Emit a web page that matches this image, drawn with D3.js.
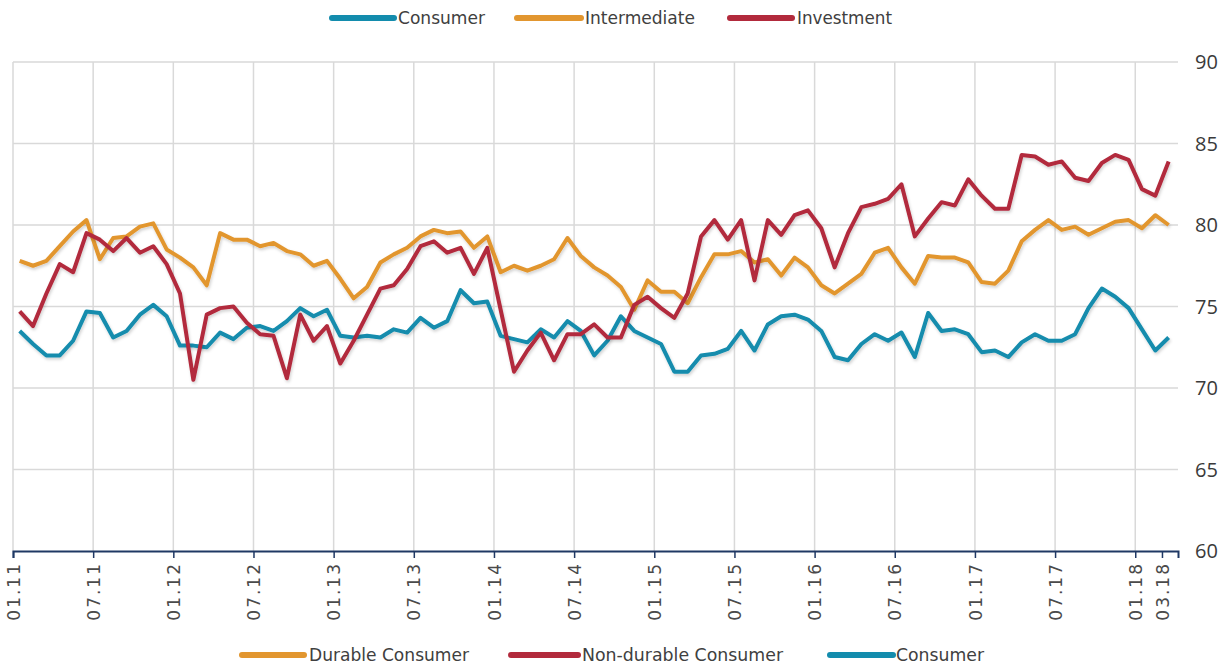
<!DOCTYPE html>
<html><head><meta charset="utf-8">
<script src="https://cdn.jsdelivr.net/npm/d3@7/dist/d3.min.js"></script>
<style>body{margin:0;background:#fff}svg{display:block}</style>
</head><body>
<svg id="c" width="1227" height="669"></svg>
<script>
// ---- data ----
const tickLabels = ["01.11","07.11","01.12","07.12","01.13","07.13","01.14","07.14","01.15","07.15","01.16","07.16","01.17","07.17","01.18","03.18"];
const tickIndex  = [0,6,12,18,24,30,36,42,48,54,60,66,72,78,84,86];
const yTicks = [60,65,70,75,80,85,90];

const consumer = [73.5,72.7,72.0,72.0,72.9,74.7,74.6,73.1,73.5,74.5,75.1,74.4,72.6,72.6,72.5,
  73.4,73.0,73.7,73.8,73.5,74.1,74.9,74.4,74.8,73.2,73.1,73.2,73.1,73.6,73.4,
  74.3,73.7,74.1,76.0,75.2,75.3,73.2,73.0,72.8,73.6,73.1,74.1,73.5,72.0,
  72.9,74.4,73.5,73.1,72.7,71.0,71.0,72.0,72.1,72.4,73.5,72.3,73.9,74.4,74.5,
  74.2,73.5,71.9,71.7,72.7,73.3,72.9,73.4,71.9,74.6,73.5,73.6,73.3,72.2,
  72.3,71.9,72.8,73.3,72.9,72.9,73.3,74.9,76.1,75.6,74.9,73.6,72.3,73.1];
const intermediate = [77.8,77.5,77.8,78.7,79.6,80.3,77.9,79.2,79.3,79.9,80.1,78.5,78.0,77.4,76.3,
  79.5,79.1,79.1,78.7,78.9,78.4,78.2,77.5,77.8,76.7,75.5,76.2,77.7,78.2,78.6,
  79.3,79.7,79.5,79.6,78.6,79.3,77.1,77.5,77.2,77.5,77.9,79.2,78.1,77.4,
  76.9,76.2,74.8,76.6,75.9,75.9,75.2,76.8,78.2,78.2,78.4,77.7,77.9,76.9,78.0,
  77.4,76.3,75.8,76.4,77.0,78.3,78.6,77.4,76.4,78.1,78.0,78.0,77.7,76.5,
  76.4,77.2,79.0,79.7,80.3,79.7,79.9,79.4,79.8,80.2,80.3,79.8,80.6,80.0];
const investment = [74.7,73.8,75.8,77.6,77.1,79.5,79.1,78.4,79.2,78.3,78.7,77.6,75.8,70.5,74.5,
  74.9,75.0,74.0,73.3,73.2,70.6,74.5,72.9,73.8,71.5,72.9,74.5,76.1,76.3,77.3,
  78.7,79.0,78.3,78.6,77.0,78.6,74.8,71.0,72.3,73.4,71.7,73.3,73.3,73.9,
  73.1,73.1,75.1,75.6,74.9,74.3,75.8,79.3,80.3,79.1,80.3,76.6,80.3,79.4,80.6,
  80.9,79.8,77.4,79.5,81.1,81.3,81.6,82.5,79.3,80.4,81.4,81.2,82.8,81.8,
  81.0,81.0,84.3,84.2,83.7,83.9,82.9,82.7,83.8,84.3,84.0,82.2,81.8,83.9];

const seriesNames = ["Consumer","Intermediate","Investment"];
const seriesColors = ["#138cad","#e2962f","#b22a3c"];
const bottomLegendNames = ["Durable Consumer","Non-durable Consumer","Consumer"];
const bottomLegendColors = ["#e2962f","#b22a3c","#138cad"];

// ---- chart ----
const svg = d3.select("#c");
const L = 13, R = 1178, T = 62, B = 551;
const x = d3.scaleLinear().domain([0, 87.2]).range([L, R]);
const y = d3.scaleLinear().domain([60, 90]).range([B, T]);

const defs = svg.append("defs");
const f = defs.append("filter").attr("id","sh").attr("x","-5%").attr("y","-20%").attr("width","110%").attr("height","140%");
f.append("feDropShadow").attr("dx",1).attr("dy",2).attr("stdDeviation",1.5).attr("flood-color","#000").attr("flood-opacity",0.18);

// horizontal grid
svg.append("g").selectAll("line").data(yTicks.filter(v=>v>60)).join("line")
  .attr("x1", L).attr("x2", R).attr("y1", d=>y(d)).attr("y2", d=>y(d))
  .attr("stroke","#d9d9d9").attr("stroke-width",1.5);
// vertical grid
svg.append("g").selectAll("line").data(tickIndex.filter(i=>i%6===0)).join("line")
  .attr("x1", d=>x(d)).attr("x2", d=>x(d)).attr("y1", T).attr("y2", B)
  .attr("stroke","#d9d9d9").attr("stroke-width",1.5);

// y labels (right)
svg.append("g").selectAll("text").data(yTicks).join("text")
  .attr("x", 1195).attr("y", d=>y(d)+7)
  .attr("font-family","'Open Sans', sans-serif").attr("font-size",20)
  .attr("fill","#3a3a3a").text(d=>d);

// x axis
const xAxis = d3.axisBottom(x).tickValues(tickIndex).tickFormat((d,i)=>tickLabels[i]).tickSizeOuter(0).tickSize(7);
const gx = svg.append("g").attr("transform",`translate(0,${B})`).call(xAxis);
gx.select(".domain").attr("stroke","#1f3864").attr("stroke-width",2);
gx.selectAll(".tick line").attr("stroke","#1f3864").attr("stroke-width",1.5);
gx.selectAll(".tick text")
  .attr("font-family","'DejaVu Sans', sans-serif").attr("font-size",17).attr("fill","#4a4a4a")
  .attr("letter-spacing","2px")
  .attr("transform","rotate(-90)").attr("text-anchor","end")
  .attr("x",-11).attr("y",0).attr("dy","0.36em");

// lines
const line = d3.line().x((d,i)=>x(i+0.5)).y(d=>y(d));
[consumer, intermediate, investment].forEach((s,k)=>{
  svg.append("path").datum(s).attr("d", line).attr("fill","none")
    .attr("stroke", seriesColors[k]).attr("stroke-width",4)
    .attr("stroke-linejoin","round").attr("filter","url(#sh)");
});

// legends
function legend(items, colors, swatches, texts, cy){
  items.forEach((name,i)=>{
    svg.append("line").attr("x1",swatches[i][0]).attr("x2",swatches[i][1]).attr("y1",cy).attr("y2",cy)
      .attr("stroke",colors[i]).attr("stroke-width",6).attr("stroke-linecap","round");
    svg.append("text").attr("x",texts[i][0]).attr("y",cy+6)
      .attr("font-family","'DejaVu Sans Condensed','DejaVu Sans',sans-serif").attr("font-size",17)
      .attr("fill","#404040").attr("textLength",texts[i][1]-texts[i][0]).attr("lengthAdjust","spacingAndGlyphs")
      .text(name);
  });
}
legend(seriesNames, seriesColors, [[332,394],[517,581],[730,792]], [[398,485],[585,695],[797,892]], 18);
legend(bottomLegendNames, bottomLegendColors, [[242,304],[511,578],[830,893]], [[309,469],[582,783],[896,984]], 655);
</script>
</body></html>
